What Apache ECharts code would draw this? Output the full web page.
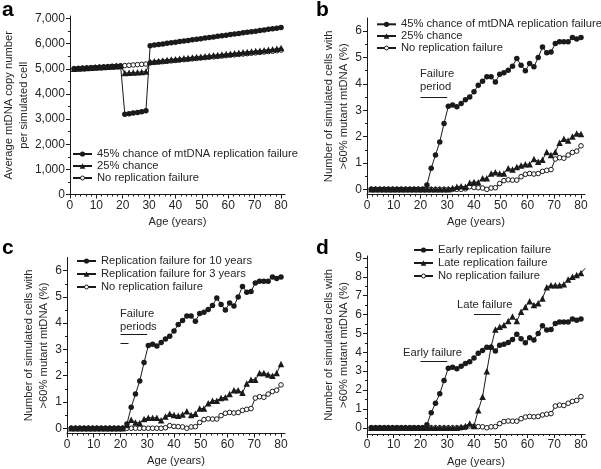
<!DOCTYPE html>
<html><head><meta charset="utf-8">
<script src="https://cdn.jsdelivr.net/npm/echarts@6/dist/echarts.min.js"></script>
<style>html,body{margin:0;padding:0;background:#fff}#c{width:601px;height:469px}</style>
</head><body><div id="c"></div>
<script>
// ---- data (ages in years) ----
var ages = [1.6,3.2,4.8,6.4,8,9.6,11.2,12.8,14.4,16,17.6,19.2,20.8,22.4,24,25.6,27.2,28.8,30.4,32,33.6,35.2,36.8,38.4,40,41.6,43.2,44.8,46.4,48,49.6,51.2,52.8,54.4,56,57.6,59.2,60.8,62.4,64,65.6,67.2,68.8,70.4,72,73.6,75.2,76.8,78.4,80];
// panel a: average mtDNA copy number per simulated cell
var copy45 = [5000,5010,5020,5030,5042,5052,5062,5072,5084,5095,5105,5115,3190,3215,3240,3265,3290,3330,5920,5945,5968,5990,6013,6036,6060,6083,6106,6130,6152,6175,6198,6222,6245,6268,6290,6313,6336,6360,6383,6406,6430,6452,6475,6498,6522,6545,6568,6590,6615,6640];
var copy25 = [5000,5010,5020,5030,5042,5052,5062,5072,5084,5095,5105,5115,4830,4840,4852,4863,4875,4890,5280,5297,5314,5331,5348,5365,5382,5399,5416,5433,5450,5467,5484,5501,5518,5535,5552,5569,5586,5603,5620,5637,5654,5671,5688,5705,5722,5739,5756,5773,5800,5830];
var copy0 = [5000,5010,5020,5030,5042,5052,5062,5072,5084,5095,5105,5115,5128,5140,5152,5165,5178,5190,5235,5252,5268,5284,5300,5316,5332,5348,5364,5380,5396,5412,5428,5444,5460,5476,5492,5508,5524,5540,5556,5572,5588,5604,5620,5636,5652,5668,5684,5700,5720,5745];
// panels b-d: % of simulated cells with >60% mutant mtDNA
var fail45 = [0,0,0,0,0,0,0,0,0,0,0,0,0,0.16,0.8,1.3,1.8,2.5,3.15,3.2,3.13,3.26,3.4,3.5,3.7,3.95,4.1,4.27,4.27,4.07,4.37,4.42,4.52,4.67,4.96,4.71,4.5,4.77,4.65,5.0,5.4,5.18,5.21,5.53,5.6,5.6,5.6,5.76,5.7,5.76];
var fail25 = [0,0,0,0,0,0,0,0,0,0,0,0,0,0,0,0,0,0,0,0.05,0.1,0.12,0.1,0.25,0.28,0.27,0.42,0.42,0.6,0.65,0.6,0.6,0.8,0.75,0.85,0.9,0.95,0.95,1.15,1.05,1.12,1.42,1.3,1.42,1.77,1.92,1.85,2.0,2.12,2.1];
var noFail = [0,0,0,0,0,0,0,0,0,0,0,0,0,0,0,0,0,0,0,0,0,0,0.02,0.1,0.07,0.06,0.05,0.0,0.05,0.06,0.22,0.33,0.36,0.35,0.35,0.48,0.57,0.6,0.58,0.6,0.68,0.72,0.75,1.15,1.2,1.18,1.3,1.4,1.45,1.65];
var fail3yr = [0,0,0,0,0,0,0,0,0,0,0,0,0,0.12,0.32,0.22,0.2,0.35,0.4,0.4,0.4,0.3,0.45,0.55,0.5,0.48,0.52,0.65,0.5,0.55,0.75,0.75,0.95,1.05,1.05,1.15,1.18,1.3,1.45,1.45,1.35,1.7,1.85,1.85,2.1,2.1,2.05,2.0,2.1,2.45];
var lateFail = [0,0,0,0,0,0,0,0,0,0,0,0,0,0,0,0,0,0,0,0,0,0.05,0.1,0.22,0.1,0.93,1.65,3.0,4.3,5.2,5.35,5.45,5.65,5.9,5.65,6.15,6.4,6.7,6.5,6.6,6.85,7.45,7.55,7.55,7.55,7.6,7.85,8.0,8.1,8.2];
var lateTail = [81.6, 8.45];
// tick labels
var xTicks = [0,10,20,30,40,50,60,70,80];
var yTicksA = [0,1000,2000,3000,4000,5000,6000,7000];
var yTicksBC = [0,1,2,3,4,5,6];
var yTicksD = [0,1,2,3,4,5,6,7,8,9];

var FONT = 'Liberation Sans, Arial, Helvetica, sans-serif';
var INK = '#1a1a1a';
var TXT = '#262626';

function pairs(y){ return ages.map(function(a,i){ return [a, y[i]]; }); }
function mids(t){ var r=[]; for(var i=0;i<t.length-1;i++){ r.push((t[i]+t[i+1])/2); } return r; }
function xMinor(){ var r=[]; for(var i=0;i<xTicks.length-1;i++){ for(var j=1;j<5;j++){ r.push(xTicks[i]+(xTicks[i+1]-xTicks[i])*j/5);} } return r; }

var grids=[], xAxes=[], yAxes=[], series=[], legends=[], graphics=[];

var STY = {
  dot: {symbol:'circle', symbolSize:5.5, legH:6.5, itemStyle:{color:INK, borderColor:INK, borderWidth:0}},
  tri: {symbol:'triangle', symbolSize:6.5, legH:7, itemStyle:{color:INK, borderColor:INK, borderWidth:0}},
  ring:{symbol:'circle', symbolSize:4.6, legH:5, itemStyle:{color:'#fff', borderColor:INK, borderWidth:1}}
};

function panel(g, yMin, yMax, yTicks, yFmt, yName, yGap, list, legLeft, legRows, marks){
  var gi = grids.length;
  grids.push(g);
  var xi = xAxes.length, yi = yAxes.length;
  xAxes.push({type:'value', gridIndex:gi, min:0, max:81.5, position:'bottom',
    axisLine:{show:true, onZero:false, lineStyle:{color:INK, width:1}},
    axisTick:{show:true, length:4, customValues:xTicks, lineStyle:{color:INK}},
    axisLabel:{show:true, customValues:xTicks, color:TXT, fontSize:12, fontFamily:FONT, margin:5},
    splitLine:{show:false},
    name:'Age (years)', nameLocation:'middle', nameGap:22,
    nameTextStyle:{color:TXT, fontSize:11.2, fontFamily:FONT}});
  xAxes.push({type:'value', gridIndex:gi, min:0, max:81.5, position:'bottom',
    axisLine:{show:false, onZero:false}, axisLabel:{show:false}, splitLine:{show:false},
    axisTick:{show:true, length:2, customValues:xMinor(), lineStyle:{color:INK}}});
  yAxes.push({type:'value', gridIndex:gi, min:yMin, max:yMax, position:'left',
    axisLine:{show:true, onZero:false, lineStyle:{color:INK, width:1}},
    axisTick:{show:true, length:4, customValues:yTicks, lineStyle:{color:INK}},
    axisLabel:{show:true, customValues:yTicks, color:TXT, fontSize:12, fontFamily:FONT, margin:5, formatter:yFmt},
    splitLine:{show:false},
    name:yName, nameLocation:'middle', nameGap:yGap,
    nameTextStyle:{color:TXT, fontSize:11.2, fontFamily:FONT, lineHeight:15}});
  yAxes.push({type:'value', gridIndex:gi, min:yMin, max:yMax, position:'left',
    axisLine:{show:false, onZero:false}, axisLabel:{show:false}, splitLine:{show:false},
    axisTick:{show:true, length:2, customValues:mids(yTicks), lineStyle:{color:INK}}});
  list.forEach(function(s, k){
    var st = STY[s.sty];
    series.push({type:'line', name:s.name, xAxisIndex:xi, yAxisIndex:yi, data:s.data,
      symbol:st.symbol, symbolSize:st.symbolSize, showSymbol:true, itemStyle:st.itemStyle,
      lineStyle:{color:INK, width:1}, z:s.z||2, clip:true, emphasis:{disabled:true}});
    legends.push({orient:'vertical', left:legLeft, top:legRows[k]-6, itemWidth:19, itemHeight:st.legH,
      itemGap:0, padding:0, itemStyle:st.itemStyle, selectedMode:false,
      textStyle:{color:TXT, fontSize:11.2, fontFamily:FONT, lineHeight:12},
      data:[s.name]});
  });
  if(marks){
    series.push({type:'line', xAxisIndex:xi, yAxisIndex:yi, data:[], silent:true,
      markLine:{silent:true, symbol:['none','none'], label:{show:false}, animation:false,
        lineStyle:{color:INK, width:1, type:'solid'},
        data:marks.map(function(m){ return [{coord:[m[0],m[2]]},{coord:[m[1],m[2]]}]; })}});
  }
}

var commaFmt = function(v){ return v===0 ? '0' : String(v).replace(/\B(?=(\d{3})+(?!\d))/g, ','); };
var plainFmt = function(v){ return String(v); };
var yTitle2 = 'Number of simulated cells with\n>60% mutant mtDNA (%)';

// a
panel({left:67, top:16, width:218, height:178.5}, 0, 7100, yTicksA, commaFmt,
  'Average mtDNA copy number\nper simulated cell', 38,
  [{name:'45% chance of mtDNA replication failure', sty:'dot', data:pairs(copy45), z:4},
   {name:'25% chance', sty:'tri', data:pairs(copy25), z:3},
   {name:'No replication failure', sty:'ring', data:pairs(copy0), z:2}],
  72, [154, 166, 178], null);
// b
panel({left:367, top:18, width:218, height:176.6}, -0.2, 6.5, yTicksBC, plainFmt, yTitle2, 16,
  [{name:'45% chance of mtDNA replication failure', sty:'dot', data:pairs(fail45), z:4},
   {name:'25% chance', sty:'tri', data:pairs(fail25), z:3},
   {name:'No replication failure', sty:'ring', data:pairs(noFail), z:2}],
  376, [24.3, 36, 48], [[20,30,3.5]]);
// c
panel({left:67, top:257.5, width:218, height:176}, -0.2, 6.5, yTicksBC, plainFmt, yTitle2, 16,
  [{name:'Replication failure for 10 years', sty:'dot', data:pairs(fail45), z:4},
   {name:'Replication failure for 3 years', sty:'tri', data:pairs(fail3yr), z:3},
   {name:'No replication failure', sty:'ring', data:pairs(noFail), z:2}],
  76, [261, 274, 287], [[20,30,3.57],[20,23,3.23]]);
// d
var lateData = pairs(lateFail); lateData.push({value:lateTail, symbol:'none'});
panel({left:367, top:256, width:218, height:178}, -0.33, 9.1, yTicksD, plainFmt, yTitle2, 16,
  [{name:'Early replication failure', sty:'dot', data:pairs(fail45), z:4},
   {name:'Late replication failure', sty:'tri', data:lateData, z:3},
   {name:'No replication failure', sty:'ring', data:pairs(noFail), z:2}],
  413, [250, 263, 276], [[20,30,3.5],[40,50,6.0]]);

function txt(x,y,s,size,bold){ return {type:'text', left:x, top:y, style:{text:s, fill:bold?'#000':TXT, font:(bold?'bold ':'')+size+'px '+FONT}}; }
graphics.push(txt(2,0,'a',21,true), txt(316,0,'b',21,true), txt(2,238,'c',21,true), txt(316,238,'d',21,true));
graphics.push(txt(420,68,'Failure',11.2), txt(420,81,'period',11.2));
graphics.push(txt(120,308,'Failure',11.2), txt(120,321,'periods',11.2));
graphics.push(txt(457,299,'Late failure',11.2), txt(403,347,'Early failure',11.2));

var chart = echarts.init(document.getElementById('c'), null, {renderer:'canvas'});
chart.setOption({animation:false, backgroundColor:'#fff', grid:grids, xAxis:xAxes, yAxis:yAxes,
  series:series, legend:legends, graphic:graphics});
</script></body></html>
